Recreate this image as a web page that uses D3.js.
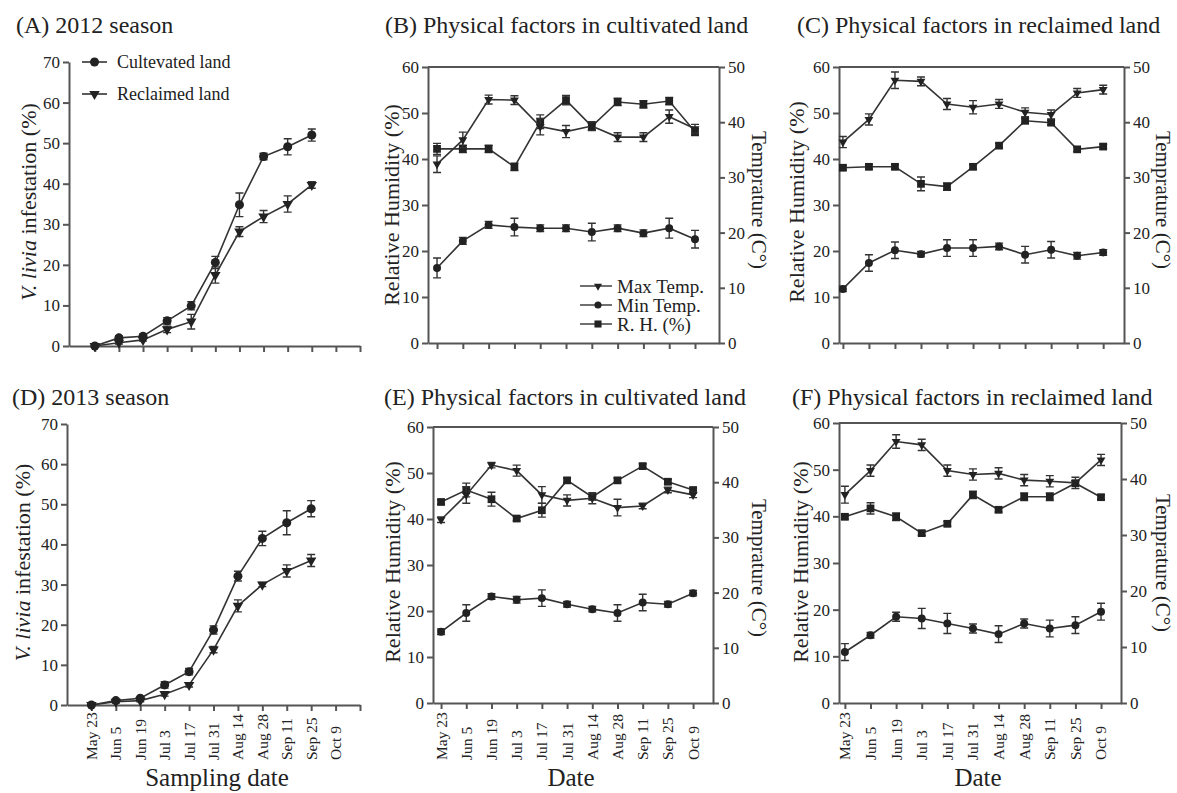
<!DOCTYPE html>
<html>
<head>
<meta charset="utf-8">
<script src="https://cdn.jsdelivr.net/npm/d3@7"></script>
<style>
  body { margin: 0; background: #fff; }
  svg { display: block; }
</style>
</head>
<body>
<script>
// sampling dates (x categories)
var dates = ["May 23", "Jun 5", "Jun 19", "Jul 3", "Jul 17", "Jul 31", "Aug 14", "Aug 28", "Sep 11", "Sep 25", "Oct 9"];

// V. livia infestation (%), 2012 season
var cult2012 = [0, 2, 2.4, 6.2, 9.9, 20.6, 34.8, 46.7, 49.1, 52];
var cult2012Err = [0, 0.5, 0.5, 0.8, 1, 1.5, 2.9, 0.8, 2, 1.5];
var recl2012 = [0, 0.8, 1.5, 4.1, 6, 17.5, 28.2, 31.9, 35, 39.7];
var recl2012Err = [0, 0.3, 0.3, 0.8, 1.8, 2, 1.2, 1.5, 2, 0.8];

// V. livia infestation (%), 2013 season
var cult2013 = [0, 1.1, 1.7, 5, 8.3, 18.7, 32.1, 41.5, 45.4, 48.9];
var cult2013Err = [0, 0.3, 0.3, 0.8, 0.8, 1, 1.2, 1.8, 3, 2];
var recl2013 = [0, 0.8, 1.1, 2.7, 5, 13.8, 24.7, 30, 33.4, 36];
var recl2013Err = [0, 0.3, 0.3, 0.5, 0.5, 0.8, 1.5, 0.5, 1.5, 1.5];

// (B) cultivated land 2012: temps in C, humidity in %
var maxTempB = [32.4, 36.8, 44.1, 44.0, 39.2, 38.3, 39.3, 37.3, 37.3, 41.0, 38.8];
var maxTempBErr = [1.5, 1.4, 0.8, 0.8, 1.5, 1.1, 0.8, 0.8, 0.8, 1.2, 0.8];
var minTempB = [13.6, 18.5, 21.4, 21.0, 20.8, 20.8, 20.1, 20.8, 19.9, 20.8, 18.8];
var minTempBErr = [1.8, 0.6, 0.6, 1.6, 0.6, 0.6, 1.6, 0.6, 0.6, 1.8, 1.6];
var rhB = [42.2, 42.2, 42.2, 38.3, 48.1, 52.8, 47.1, 52.4, 51.9, 52.6, 45.9];
var rhBErr = [1.2, 0.8, 0.8, 0.8, 1.5, 1, 0.8, 0.8, 0.8, 0.8, 0.8];

// (C) reclaimed land 2012
var maxTempC = [36.4, 40.5, 47.6, 47.4, 43.3, 42.7, 43.3, 41.8, 41.4, 45.3, 45.9];
var maxTempCErr = [1, 1, 1.5, 0.8, 1, 1.2, 0.8, 0.8, 0.8, 0.8, 0.8];
var minTempC = [9.8, 14.5, 16.8, 16.1, 17.2, 17.2, 17.5, 16.0, 16.9, 15.8, 16.4];
var minTempCErr = [0.5, 1.5, 1.5, 0.5, 1.5, 1.5, 0.6, 1.5, 1.5, 0.6, 0.5];
var rhC = [38.1, 38.3, 38.3, 34.6, 34.0, 38.3, 42.9, 48.3, 47.9, 42.1, 42.7];
var rhCErr = [0.5, 0.5, 0.5, 1.5, 0.8, 0.5, 0.5, 0.5, 0.5, 0.5, 0.5];

// (E) cultivated land 2013
var maxTempE = [33.2, 37.7, 43.1, 42.1, 37.7, 36.7, 37.1, 35.4, 35.7, 38.6, 37.7];
var maxTempEErr = [0.5, 1.5, 0.5, 1, 1.5, 1, 1, 1.5, 0.5, 0.5, 0.5];
var minTempE = [12.9, 16.3, 19.3, 18.7, 19.0, 17.9, 17.0, 16.3, 18.2, 17.9, 19.9];
var minTempEErr = [0.5, 1.5, 0.5, 0.6, 1.5, 0.5, 0.5, 1.5, 1.5, 0.5, 0.5];
var rhE = [43.7, 46.3, 44.3, 40.1, 41.9, 48.4, 44.8, 48.4, 51.5, 48.1, 46.3];
var rhEErr = [0.5, 1.5, 1.5, 0.5, 1.5, 0.5, 0.5, 0.5, 0.5, 0.5, 0.5];

// (F) reclaimed land 2013
var maxTempF = [37.2, 41.5, 46.7, 46.1, 41.5, 40.8, 41.0, 39.8, 39.6, 39.3, 43.4];
var maxTempFErr = [1.5, 1, 1.2, 1, 1, 1, 1, 1, 1, 1, 1];
var minTempF = [9.1, 12.1, 15.4, 15.1, 14.2, 13.3, 12.3, 14.2, 13.3, 13.9, 16.3];
var minTempFErr = [1.5, 0.5, 0.8, 1.8, 1.8, 0.8, 1.5, 0.8, 1.5, 1.5, 1.5];
var rhF = [39.9, 41.7, 39.9, 36.4, 38.4, 44.6, 41.4, 44.2, 44.2, 47.1, 44.1];
var rhFErr = [0.5, 1.2, 0.8, 0.5, 0.5, 0.8, 0.5, 0.8, 0.8, 0.5, 0.5];

var FONT = '"Liberation Serif", "Times New Roman", serif';
var INK = "#222";
var AXIS = "#555";

var svg = d3.select("body")
  .append("svg")
  .attr("width", 1177)
  .attr("height", 793)
  .style("font-family", FONT);

function styleAxis(g) {
  g.attr("font-family", null);
  g.select(".domain").attr("stroke", AXIS).attr("stroke-width", 2);
  g.selectAll(".tick line").attr("stroke", AXIS).attr("stroke-width", 2);
  g.selectAll(".tick text")
    .attr("fill", INK)
    .style("font-family", FONT)
    .style("font-size", "17px");
}

// draw a series: line, error bars, then markers
function drawSeries(g, x, y, vals, errs, symbolType, size, rotate) {
  var pts = vals.map(function (v, i) { return { i: i, v: v, e: errs[i] }; });

  g.append("path")
    .datum(pts)
    .attr("fill", "none")
    .attr("stroke", "#333")
    .attr("stroke-width", 1.6)
    .attr("d", d3.line().x(function (d) { return x(d.i); }).y(function (d) { return y(d.v); }));

  g.selectAll(null)
    .data(pts.filter(function (d) { return d.e > 0; }))
    .enter()
    .append("path")
    .attr("fill", "none")
    .attr("stroke", "#333")
    .attr("stroke-width", 1.4)
    .attr("d", function (d) {
      var cx = x(d.i), y1 = y(d.v + d.e), y2 = y(d.v - d.e);
      return "M" + (cx - 4) + "," + y1 + "H" + (cx + 4) +
        "M" + cx + "," + y1 + "V" + y2 +
        "M" + (cx - 4) + "," + y2 + "H" + (cx + 4);
    });

  g.selectAll(null)
    .data(pts)
    .enter()
    .append("path")
    .attr("d", d3.symbol().type(symbolType).size(size))
    .attr("fill", INK)
    .attr("transform", function (d) {
      return "translate(" + x(d.i) + "," + y(d.v) + ")" + (rotate ? " rotate(180)" : "");
    });
}

function xLabels(x) {
  svg.append("g")
    .selectAll("text")
    .data(dates)
    .enter()
    .append("text")
    .attr("transform", function (d, i) { return "translate(" + x(i) + ",760) rotate(-90)"; })
    .attr("dy", "0.35em")
    .style("text-anchor", "start")
    .style("font-size", "15.5px")
    .attr("fill", INK)
    .text(function (d) { return d; });
}

function rotatedText(txt, cx, cy, angle, size) {
  return svg.append("text")
    .attr("transform", "translate(" + cx + "," + cy + ") rotate(" + angle + ")")
    .attr("dy", "0.35em")
    .style("text-anchor", "middle")
    .style("font-size", size + "px")
    .attr("fill", INK)
    .text(txt);
}

// infestation panels (A) and (D)
function drawInfestation(cfg) {
  var x = d3.scaleLinear().domain(cfg.xDomain).range([cfg.left, cfg.right]);
  var y = d3.scaleLinear().domain([0, 70]).range([cfg.bottom, cfg.top]);

  svg.append("g")
    .attr("transform", "translate(0," + cfg.bottom + ")")
    .call(d3.axisBottom(x).tickValues(d3.range(0, 12)).tickSize(6).tickSizeOuter(0).tickFormat(""))
    .call(styleAxis);
  svg.append("g")
    .attr("transform", "translate(" + cfg.left + ",0)")
    .call(d3.axisLeft(y).tickValues(d3.range(0, 71, 10)).tickSize(6).tickSizeOuter(0).tickFormat(d3.format("d")))
    .call(styleAxis);

  var g = svg.append("g");
  drawSeries(g, x, y, cfg.recl, cfg.reclErr, d3.symbolTriangle, 48, true);
  drawSeries(g, x, y, cfg.cult, cfg.cultErr, d3.symbolCircle, 64, false);

  svg.append("text")
    .attr("x", cfg.titleX).attr("y", cfg.titleY)
    .style("font-size", "24px").attr("fill", INK)
    .text(cfg.title);

  var lab = svg.append("text")
    .attr("transform", "translate(" + cfg.yLabX + "," + ((cfg.top + cfg.bottom) / 2 - 2) + ") rotate(-90)")
    .attr("dy", "0.35em")
    .style("text-anchor", "middle")
    .style("font-size", "22px")
    .attr("fill", INK);
  lab.append("tspan").style("font-style", "italic").text("V. livia");
  lab.append("tspan").text(" infestation (%)");

  if (cfg.legend) {
    var items = [
      { name: "Cultevated land", type: d3.symbolCircle, size: 64, rot: false },
      { name: "Reclaimed land", type: d3.symbolTriangle, size: 48, rot: true }
    ];
    var leg = svg.selectAll(".legA")
      .data(items)
      .enter()
      .append("g")
      .attr("transform", function (d, i) { return "translate(82," + (62 + i * 32) + ")"; });
    leg.append("line").attr("x1", 0).attr("x2", 25).attr("stroke", "#333").attr("stroke-width", 1.6);
    leg.append("path")
      .attr("d", function (d) { return d3.symbol().type(d.type).size(d.size)(); })
      .attr("transform", function (d) { return "translate(12.5,0)" + (d.rot ? " rotate(180)" : ""); })
      .attr("fill", INK);
    leg.append("text")
      .attr("x", 35).attr("dy", "0.35em")
      .style("font-size", "18px").attr("fill", INK)
      .text(function (d) { return d.name; });
  }

  if (cfg.xLabels) {
    xLabels(x);
    svg.append("text")
      .attr("x", 217).attr("y", 786)
      .style("text-anchor", "middle")
      .style("font-size", "25px").attr("fill", INK)
      .text("Sampling date");
  }
}

// physical factor panels (B, C, E, F)
function drawPhysical(cfg) {
  var x = d3.scaleLinear().domain(cfg.xDomain).range([cfg.left, cfg.right]);
  var yRH = d3.scaleLinear().domain([0, 60]).range([cfg.bottom, cfg.top]);
  var yT = d3.scaleLinear().domain([0, 50]).range([cfg.bottom, cfg.top]);

  svg.append("line")
    .attr("x1", cfg.left).attr("x2", cfg.right)
    .attr("y1", cfg.top).attr("y2", cfg.top)
    .attr("stroke", AXIS).attr("stroke-width", 2);
  svg.append("g")
    .attr("transform", "translate(0," + cfg.bottom + ")")
    .call(d3.axisBottom(x).tickValues(d3.range(0, 11)).tickSize(6).tickSizeOuter(0).tickFormat(""))
    .call(styleAxis);
  svg.append("g")
    .attr("transform", "translate(" + cfg.left + ",0)")
    .call(d3.axisLeft(yRH).tickValues(d3.range(0, 61, 10)).tickSize(6).tickSizeOuter(0).tickFormat(d3.format("d")))
    .call(styleAxis);
  svg.append("g")
    .attr("transform", "translate(" + cfg.right + ",0)")
    .call(d3.axisRight(yT).tickValues(d3.range(0, 51, 10)).tickSize(6).tickSizeOuter(0).tickFormat(d3.format("d")))
    .call(styleAxis);

  var g = svg.append("g");
  drawSeries(g, x, yT, cfg.minT, cfg.minTErr, d3.symbolCircle, 50, false);
  drawSeries(g, x, yRH, cfg.rh, cfg.rhErr, d3.symbolSquare, 60, false);
  drawSeries(g, x, yT, cfg.maxT, cfg.maxTErr, d3.symbolTriangle, 34, true);

  svg.append("text")
    .attr("x", cfg.titleX).attr("y", cfg.titleY)
    .style("font-size", "24px").attr("fill", INK)
    .text(cfg.title);

  rotatedText("Relative Humidity (%)", cfg.leftLabX, cfg.leftLabY, -90, 22);
  rotatedText("Temprature (C°)", cfg.rightLabX, cfg.rightLabY, 90, 21);

  if (cfg.legend) {
    var items = [
      { name: "Max Temp.", type: d3.symbolTriangle, size: 28, rot: true },
      { name: "Min Temp.", type: d3.symbolCircle, size: 40, rot: false },
      { name: "R. H. (%)", type: d3.symbolSquare, size: 50, rot: false }
    ];
    var leg = svg.selectAll(".legB")
      .data(items)
      .enter()
      .append("g")
      .attr("transform", function (d, i) { return "translate(580," + (286 + i * 19) + ")"; });
    leg.append("line").attr("x1", 0).attr("x2", 32).attr("stroke", "#333").attr("stroke-width", 1.4);
    leg.append("path")
      .attr("d", function (d) { return d3.symbol().type(d.type).size(d.size)(); })
      .attr("transform", function (d) { return "translate(18,0)" + (d.rot ? " rotate(180)" : ""); })
      .attr("fill", INK);
    leg.append("text")
      .attr("x", 37).attr("dy", "0.35em")
      .style("font-size", "19px").attr("fill", INK)
      .text(function (d) { return d.name; });
  }

  if (cfg.xLabels) {
    xLabels(x);
    svg.append("text")
      .attr("x", (cfg.left + cfg.right) / 2 - 2).attr("y", 786)
      .style("text-anchor", "middle")
      .style("font-size", "25px").attr("fill", INK)
      .text("Date");
  }
}

drawInfestation({
  left: 69, right: 360, top: 62, bottom: 346, xDomain: [-1.07, 11],
  cult: cult2012, cultErr: cult2012Err, recl: recl2012, reclErr: recl2012Err,
  title: "(A) 2012 season", titleX: 16, titleY: 33, yLabX: 28, legend: true, xLabels: false
});
drawInfestation({
  left: 67, right: 360, top: 424, bottom: 705, xDomain: [-1, 11],
  cult: cult2013, cultErr: cult2013Err, recl: recl2013, reclErr: recl2013Err,
  title: "(D) 2013 season", titleX: 12, titleY: 405, yLabX: 22, legend: false, xLabels: true
});

drawPhysical({
  left: 428, right: 719, top: 67, bottom: 343, xDomain: [-0.35, 10.93],
  maxT: maxTempB, maxTErr: maxTempBErr, minT: minTempB, minTErr: minTempBErr, rh: rhB, rhErr: rhBErr,
  title: "(B) Physical factors in cultivated land", titleX: 385, titleY: 33,
  leftLabX: 391, leftLabY: 205, rightLabX: 759, rightLabY: 200, legend: true, xLabels: false
});
drawPhysical({
  left: 839, right: 1124, top: 67, bottom: 343, xDomain: [-0.15, 10.8],
  maxT: maxTempC, maxTErr: maxTempCErr, minT: minTempC, minTErr: minTempCErr, rh: rhC, rhErr: rhCErr,
  title: "(C) Physical factors in reclaimed land", titleX: 797, titleY: 33,
  leftLabX: 796, leftLabY: 202, rightLabX: 1163, rightLabY: 200, legend: false, xLabels: false
});
drawPhysical({
  left: 433, right: 713, top: 427, bottom: 703, xDomain: [-0.32, 10.79],
  maxT: maxTempE, maxTErr: maxTempEErr, minT: minTempE, minTErr: minTempEErr, rh: rhE, rhErr: rhEErr,
  title: "(E) Physical factors in cultivated land", titleX: 384, titleY: 405,
  leftLabX: 392, leftLabY: 562, rightLabX: 759, rightLabY: 568, legend: false, xLabels: true
});
drawPhysical({
  left: 839, right: 1121, top: 423, bottom: 703, xDomain: [-0.23, 10.78],
  maxT: maxTempF, maxTErr: maxTempFErr, minT: minTempF, minTErr: minTempFErr, rh: rhF, rhErr: rhFErr,
  title: "(F) Physical factors in reclaimed land", titleX: 792, titleY: 405,
  leftLabX: 800, leftLabY: 562, rightLabX: 1163, rightLabY: 563, legend: false, xLabels: true
});
</script>
</body>
</html>
